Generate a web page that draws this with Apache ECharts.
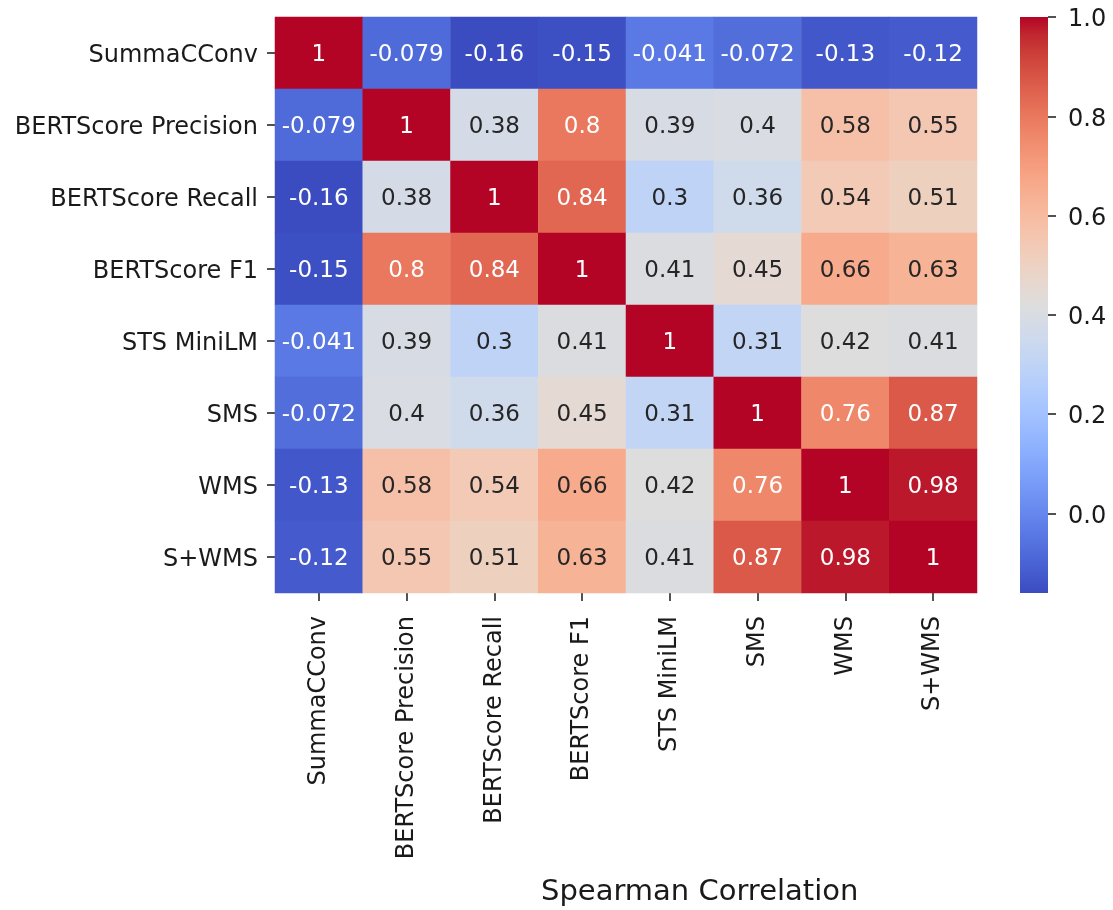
<!DOCTYPE html>
<html>
<head>
<meta charset="utf-8">
<script src="https://cdn.jsdelivr.net/npm/echarts@6/dist/echarts.min.js"></script>
<style>
  html, body { margin: 0; padding: 0; background: #fff; }
  #chart { width: 1113px; height: 910px; }
</style>
</head>
<body>
<div id="chart"></div>
<script>
// ---- Data ----
const categories = ['SummaCConv', 'BERTScore Precision', 'BERTScore Recall', 'BERTScore F1', 'STS MiniLM', 'SMS', 'WMS', 'S+WMS'];
const rowSummaCConv   = [1, -0.079, -0.16, -0.15, -0.041, -0.072, -0.13, -0.12];
const rowBertPrec     = [-0.079, 1, 0.38, 0.8, 0.39, 0.4, 0.58, 0.55];
const rowBertRecall   = [-0.16, 0.38, 1, 0.84, 0.3, 0.36, 0.54, 0.51];
const rowBertF1       = [-0.15, 0.8, 0.84, 1, 0.41, 0.45, 0.66, 0.63];
const rowStsMiniLM    = [-0.041, 0.39, 0.3, 0.41, 1, 0.31, 0.42, 0.41];
const rowSMS          = [-0.072, 0.4, 0.36, 0.45, 0.31, 1, 0.76, 0.87];
const rowWMS          = [-0.13, 0.58, 0.54, 0.66, 0.42, 0.76, 1, 0.98];
const rowSWMS         = [-0.12, 0.55, 0.51, 0.63, 0.41, 0.87, 0.98, 1];
const colorbarTicks   = [0.0, 0.2, 0.4, 0.6, 0.8, 1.0];
const colorMin = -0.16;
const colorMax = 1.0;
const axisTitle = 'Spearman Correlation';

const rows = [rowSummaCConv, rowBertPrec, rowBertRecall, rowBertF1, rowStsMiniLM, rowSMS, rowWMS, rowSWMS];

// ---- coolwarm colormap (Moreland) ----
const COOLWARM = [
  [59,76,192],[68,90,204],[77,104,215],[87,117,225],[98,130,234],[108,142,241],[119,154,247],[130,165,251],
  [141,176,254],[152,185,255],[163,194,255],[174,201,253],[184,208,249],[194,213,244],[204,217,238],[213,219,230],
  [221,221,221],[229,216,209],[236,211,197],[241,204,185],[245,196,173],[247,187,160],[247,177,148],[247,166,135],
  [244,154,123],[241,141,111],[236,127,99],[229,112,88],[222,96,77],[213,80,66],[203,62,56],[192,40,47],[180,4,38]
];
const toHex = c => '#' + c.map(v => Math.round(v).toString(16).padStart(2, '0')).join('');
function cmap(t) {
  t = Math.max(0, Math.min(1, t));
  const p = t * (COOLWARM.length - 1);
  const i = Math.min(Math.floor(p), COOLWARM.length - 2);
  const f = p - i;
  return COOLWARM[i].map((v, k) => v + (COOLWARM[i + 1][k] - v) * f);
}
function luminance(rgb) {
  const lin = rgb.map(v => { v /= 255; return v <= 0.03928 ? v / 12.92 : Math.pow((v + 0.055) / 1.055, 2.4); });
  return 0.2126 * lin[0] + 0.7152 * lin[1] + 0.0722 * lin[2];
}
function fmt(v) { return String(Number(v.toPrecision(2))); }

const FONT = 'DejaVu Sans';
const TXT = '#1a1a1a';
const heatData = [];
rows.forEach((row, i) => {
  row.forEach((v, j) => {
    const rgb = cmap((v - colorMin) / (colorMax - colorMin));
    heatData.push({
      value: [j, i, v],
      label: { color: luminance(rgb) > 0.408 ? '#262626' : '#ffffff' }
    });
  });
});

// colorbar gradient: bottom = colorMin, top = colorMax
const colorbarGradient = new echarts.graphic.LinearGradient(0, 1, 0, 0,
  COOLWARM.map((c, k) => ({ offset: k / (COOLWARM.length - 1), color: toHex(c) })));

const chart = echarts.init(document.getElementById('chart'), null, { renderer: 'canvas' });
chart.setOption({
  backgroundColor: '#ffffff',
  animation: false,
  title: {
    text: axisTitle,
    left: 541,
    top: 878,
    padding: 0,
    textStyle: { fontFamily: FONT, fontSize: 29, fontWeight: 'normal', color: TXT }
  },
  grid: [
    { left: 275, top: 17, width: 702, height: 576, containLabel: false },
    { left: 1020, top: 17, width: 28, height: 576, containLabel: false,
      show: true, backgroundColor: colorbarGradient, borderWidth: 0 }
  ],
  xAxis: [
    {
      type: 'category', gridIndex: 0, data: categories, position: 'bottom',
      axisLine: { show: false },
      axisTick: { show: true, alignWithLabel: true, length: 8, lineStyle: { color: TXT, width: 1.5 } },
      axisLabel: { rotate: 90, fontFamily: FONT, fontSize: 24, color: TXT, margin: 23 },
      splitLine: { show: false }, splitArea: { show: false }
    },
    { type: 'value', gridIndex: 1, show: false, min: 0, max: 1 }
  ],
  yAxis: [
    {
      type: 'category', gridIndex: 0, data: categories, inverse: true,
      axisLine: { show: false },
      axisTick: { show: true, alignWithLabel: true, length: 8, lineStyle: { color: TXT, width: 1.5 } },
      axisLabel: { fontFamily: FONT, fontSize: 24, color: TXT, margin: 17, verticalAlign: 'top', lineHeight: 6 },
      splitLine: { show: false }, splitArea: { show: false }
    },
    {
      type: 'value', gridIndex: 1, position: 'right', min: colorMin, max: colorMax, z: 10,
      axisLine: { show: false, onZero: false },
      splitLine: { show: false },
      axisTick: { show: true, inside: false, length: 8, customValues: colorbarTicks, lineStyle: { color: TXT, width: 1.5 } },
      axisLabel: { show: true, customValues: colorbarTicks, fontFamily: FONT, fontSize: 24, color: TXT, margin: 20,
                   verticalAlign: 'top', lineHeight: 6, formatter: v => Number(v).toFixed(1) }
    }
  ],
  visualMap: {
    type: 'continuous',
    show: false,
    seriesIndex: 0,
    min: colorMin, max: colorMax,
    inRange: { color: COOLWARM.map(toHex) }
  },
  series: [
    {
      type: 'heatmap',
      xAxisIndex: 0, yAxisIndex: 0,
      data: heatData,
      itemStyle: { borderWidth: 0 },
      emphasis: { disabled: true },
      label: {
        show: true, fontFamily: FONT, fontSize: 23, offset: [0, 2.5],
        formatter: p => fmt(p.value[2])
      }
    }
  ]
});
</script>
</body>
</html>
